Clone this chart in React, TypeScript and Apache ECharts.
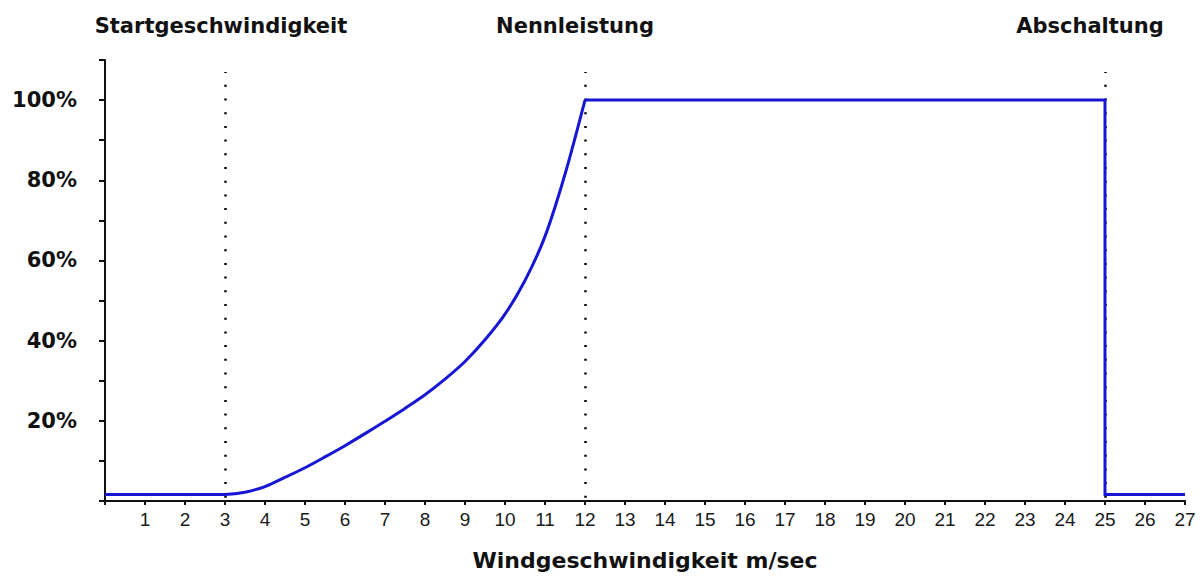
import React, { useEffect, useRef } from "react";
import * as echarts from "echarts";

// Data (wind speed in m/s, power in % of rated power)
const startSpeeds = [0, 3];
const startPower = [1.6, 1.6];
const curveSpeeds = [3, 3.5, 4, 4.5, 5, 5.5, 6, 6.5, 7, 7.5, 8, 8.5, 9, 9.5, 10, 10.5, 11, 11.5, 12];
const curvePower = [1.6, 2.2, 3.6, 5.9, 8.3, 11, 13.8, 16.8, 19.9, 23.1, 26.5, 30.4, 34.8, 40.2, 46.6, 55, 66, 81.5, 100];
const ratedSpeeds = [12, 25, 25, 27];
const ratedPower = [100, 100, 1.6, 1.6];

const markerSpeeds = [3, 12, 25];
const markerLabels = ["Startgeschwindigkeit", "Nennleistung", "Abschaltung"];
const markerLabelShift = [-4, -10, -15];
const yLabelValues = [20, 40, 60, 80, 100];

const xAxisTitle = "Windgeschwindigkeit m/sec";

const BLUE = "#1616d4";
const INK = "#111111";

function pairs(xs: number[], ys: number[]) {
  return xs.map((x, i) => [x, ys[i]]);
}

export default function App() {
  const ref = useRef<HTMLDivElement>(null);
  useEffect(() => {
    if (!ref.current) return;
    const chart = echarts.init(ref.current, null, { renderer: "svg" });
    const boldFont = "DejaVu Sans";
    const baseX = {
      type: "value" as const,
      min: 0,
      max: 27,
      interval: 1,
      splitLine: { show: false },
    };
    const baseY = {
      type: "value" as const,
      min: 0,
      max: 110,
      interval: 10,
      splitLine: { show: false },
    };
    chart.setOption({
      animation: false,
      backgroundColor: "#ffffff",
      grid: { left: 105, top: 60, width: 1080, height: 441.5 },
      xAxis: [
        {
          ...baseX,
          axisLine: { show: true, onZero: false, lineStyle: { color: INK, width: 2 } },
          axisTick: { show: true, inside: false, length: 4, lineStyle: { color: INK, width: 2 } },
          axisLabel: {
            margin: 9,
            fontFamily: "Liberation Sans",
            fontSize: 19,
            color: "#1a1a1a",
            formatter: (v: number) => (v === 0 ? "" : String(v)),
          },
          name: xAxisTitle,
          nameLocation: "middle",
          nameGap: 48,
          nameTextStyle: { fontFamily: boldFont, fontWeight: "bold", fontSize: 22, color: INK },
        },
        {
          ...baseX,
          axisLine: { show: false },
          axisTick: { show: true, inside: true, length: 4, lineStyle: { color: INK, width: 2 } },
          axisLabel: { show: false },
        },
      ],
      yAxis: [
        {
          ...baseY,
          axisLine: { show: true, onZero: false, lineStyle: { color: INK, width: 2 } },
          axisTick: { show: true, inside: false, length: 6, lineStyle: { color: INK, width: 2 } },
          axisLabel: {
            margin: 28,
            fontFamily: boldFont,
            fontWeight: "bold",
            fontSize: 21,
            color: INK,
            formatter: (v: number) => (yLabelValues.includes(v) ? v + "%" : ""),
          },
        },
        {
          ...baseY,
          axisLine: { show: false },
          axisTick: { show: true, inside: true, length: 5, lineStyle: { color: INK, width: 2 } },
          axisLabel: { show: false },
        },
      ],
      series: [
        {
          type: "line",
          data: pairs(startSpeeds, startPower),
          showSymbol: false,
          lineStyle: { color: BLUE, width: 3 },
          z: 5,
          markLine: {
            silent: true,
            symbol: "none",
            lineStyle: { color: "#000000", width: 2.5, type: [2, 11.7] },
            label: {
              show: true,
              position: "end",
              distance: 36,
              fontFamily: boldFont,
              fontWeight: "bold",
              fontSize: 21,
              color: INK,
            },
            data: markerSpeeds.map((s, i) => [
              {
                coord: [s, 0.8],
                label: { formatter: markerLabels[i], offset: [markerLabelShift[i], 0] },
              },
              { coord: [s, 107] },
            ]),
          },
        },
        {
          type: "line",
          data: pairs(curveSpeeds, curvePower),
          showSymbol: false,
          smooth: 0.3,
          lineStyle: { color: BLUE, width: 3 },
          z: 5,
        },
        {
          type: "line",
          data: pairs(ratedSpeeds, ratedPower),
          showSymbol: false,
          lineStyle: { color: BLUE, width: 3, join: "miter" },
          z: 5,
        },
      ],
    });
    return () => chart.dispose();
  }, []);
  return (
    <div
      ref={ref}
      style={{ position: "fixed", left: 0, top: 0, width: 1204, height: 576, background: "#fff" }}
    />
  );
}
